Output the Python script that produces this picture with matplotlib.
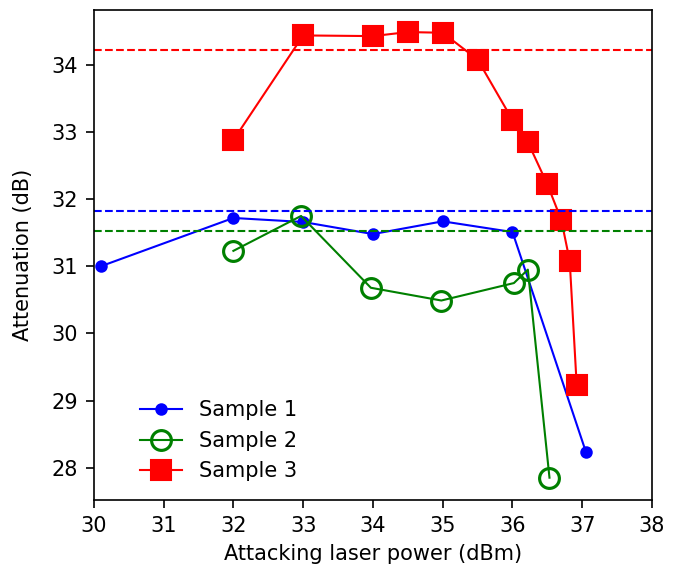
import matplotlib
matplotlib.use("Agg")
import matplotlib.pyplot as plt

# Sample 1
x1 = [30.1, 32.0, 33.0, 34.0, 35.0, 36.0, 37.05]
y1 = [31.0, 31.72, 31.66, 31.48, 31.67, 31.51, 28.24]
# Sample 2
x2 = [32.0, 32.97, 33.97, 34.98, 36.02, 36.22, 36.53]
y2 = [31.23, 31.75, 30.68, 30.49, 30.75, 30.95, 27.85]
# Sample 3
x3 = [32.0, 33.0, 34.0, 34.5, 35.0, 35.5, 36.0, 36.22, 36.5, 36.7, 36.82, 36.92]
y3 = [32.88, 34.44, 34.43, 34.49, 34.48, 34.08, 33.18, 32.85, 32.22, 31.69, 31.08, 29.23]

# reference levels (dashed)
ref_levels = {"b": 31.82, "g": 31.52, "r": 34.22}

fig = plt.figure(figsize=(4.5, 3.84), dpi=150)
ax = fig.add_subplot(111)
fig.subplots_adjust(left=0.139, right=0.966, top=0.983, bottom=0.132)

ax.plot(x1, y1, "b-", marker="o", markersize=5, lw=1.0, label="Sample 1")
ax.plot(x2, y2, "g-", marker="o", markersize=9.5, mfc="none", mew=1.5, lw=1.0, label="Sample 2")
ax.plot(x3, y3, "r-", marker="s", markersize=9.5, lw=1.0, label="Sample 3")

for c, v in ref_levels.items():
    ax.axhline(v, color=c, ls="--", lw=1.0)

ax.set_xlim(30, 38)
ax.tick_params(length=4)
ax.set_xlabel("Attacking laser power (dBm)")
ax.set_ylabel("Attenuation (dB)", labelpad=9)
ax.legend(loc="lower left", frameon=False, bbox_to_anchor=(0.05, 0.0))

fig.savefig("out.png", dpi=150)
